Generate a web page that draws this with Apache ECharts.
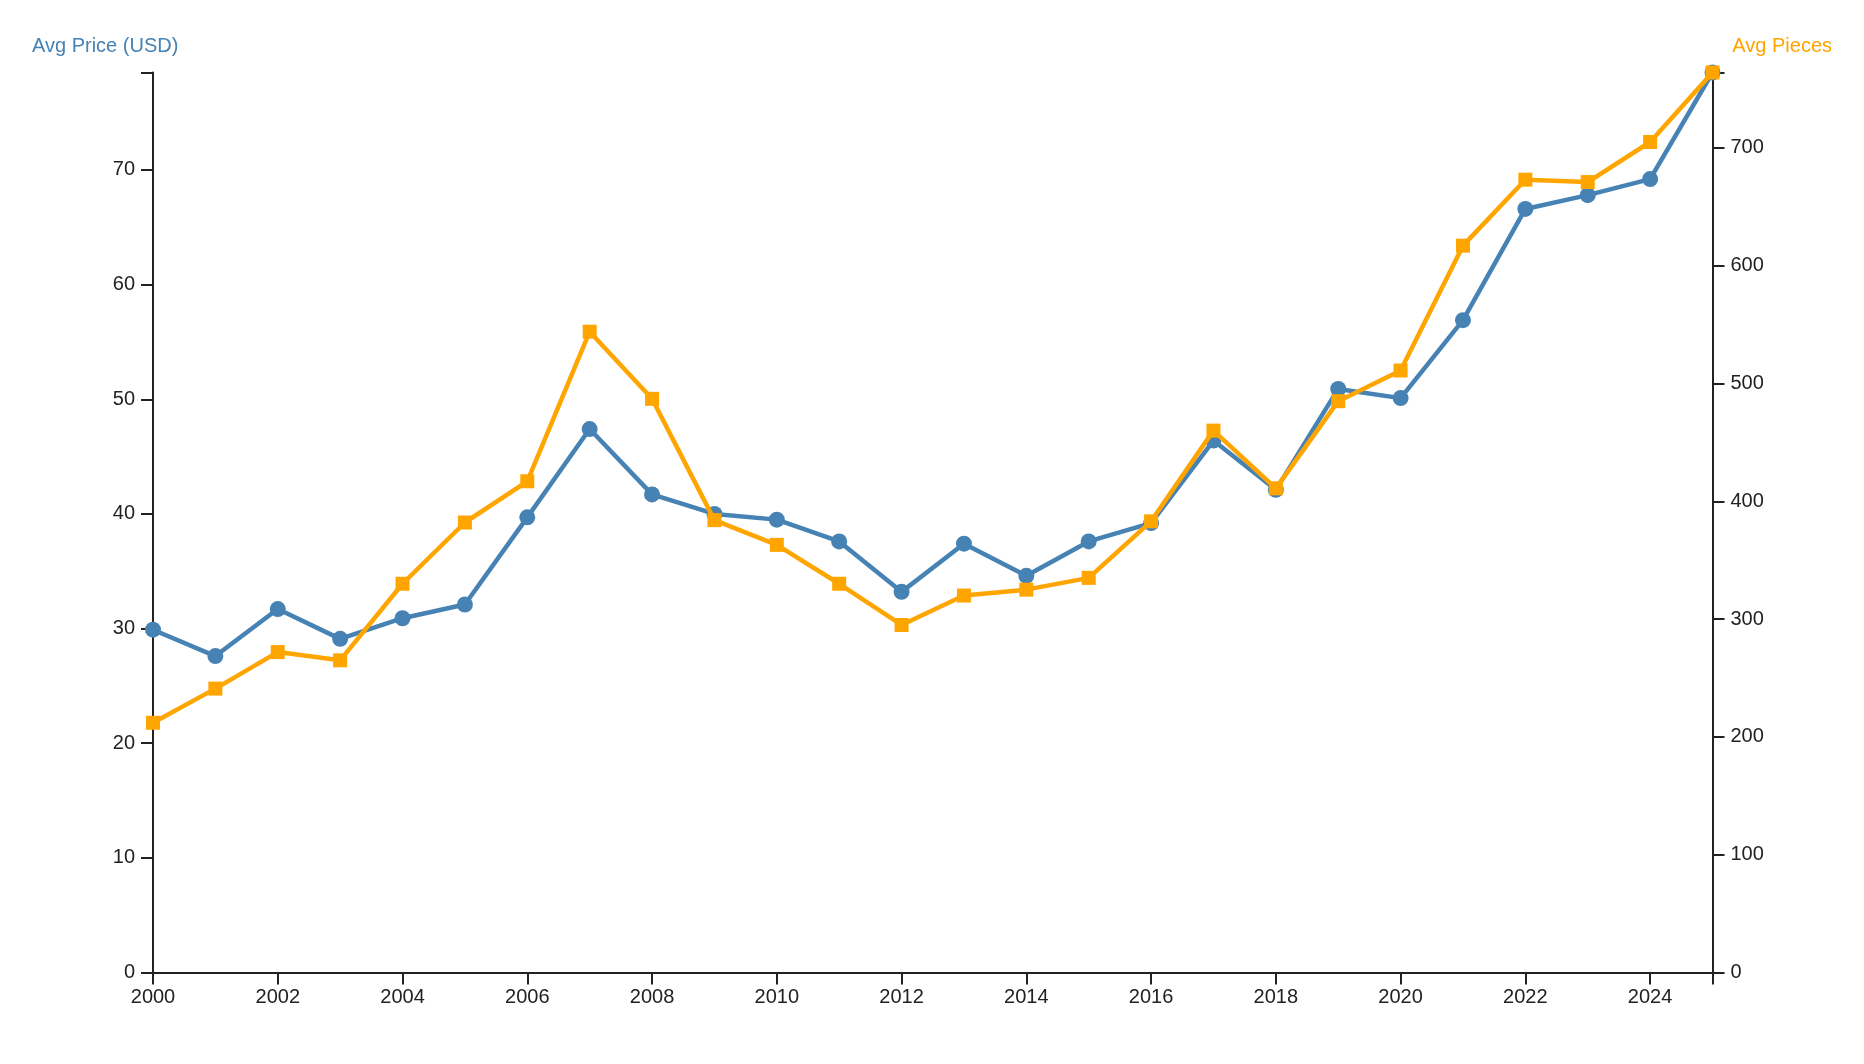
<!DOCTYPE html>
<html>
<head>
<meta charset="utf-8">
<script src="https://cdn.jsdelivr.net/npm/echarts@6/dist/echarts.min.js"></script>
<style>
  html, body { margin: 0; padding: 0; background: #fff; }
  #chart { width: 1864px; height: 1064px; }
</style>
</head>
<body>
<div id="chart"></div>
<script>
const years = [2000, 2001, 2002, 2003, 2004, 2005, 2006, 2007, 2008, 2009, 2010, 2011, 2012,
               2013, 2014, 2015, 2016, 2017, 2018, 2019, 2020, 2021, 2022, 2023, 2024, 2025];
const avgPrice = [29.9, 27.6, 31.7, 29.1, 30.9, 32.1, 39.7, 47.4, 41.7, 40.0, 39.5, 37.6, 33.2,
                  37.4, 34.6, 37.6, 39.2, 46.4, 42.1, 50.9, 50.1, 56.9, 66.6, 67.8, 69.2, 78.5];
const avgPieces = [212, 241, 272, 265, 330, 382, 417, 544, 487, 384, 363, 330, 295,
                   320, 325, 335, 383, 460, 411, 485, 511, 617, 673, 671, 705, 764];
const leftAxisTitle = 'Avg Price (USD)';
const rightAxisTitle = 'Avg Pieces';

const FONT = '"Liberation Sans", Arial, Helvetica, sans-serif';
const AXIS_COLOR = '#222';
const BLUE = '#4682b4';
const ORANGE = '#ffa500';

const xMin = years[0], xMax = years[years.length - 1];
const priceMax = Math.max(...avgPrice);
const piecesMax = Math.max(...avgPieces);

const chart = echarts.init(document.getElementById('chart'), null, { renderer: 'canvas' });

const axisCommon = {
  axisLine: { show: true, lineStyle: { color: AXIS_COLOR, width: 2 } },
  axisTick: { show: true, length: 12, lineStyle: { color: AXIS_COLOR, width: 2 } },
  splitLine: { show: false },
};

chart.setOption({
  animation: false,
  backgroundColor: '#fff',
  grid: { left: 153, right: 151.5, top: 72.5, bottom: 91.5, containLabel: false },
  xAxis: Object.assign({
    type: 'value',
    min: xMin,
    max: xMax,
    interval: 2,
    axisLabel: {
      color: AXIS_COLOR, fontSize: 20, fontFamily: FONT, margin: 15,
      showMaxLabel: true,
      formatter: v => (v === xMax ? '' : String(v))
    }
  }, axisCommon),
  yAxis: [
    Object.assign({
      type: 'value',
      position: 'left',
      min: 0,
      max: priceMax,
      interval: 10,
      axisLabel: {
        color: AXIS_COLOR, fontSize: 20, fontFamily: FONT, margin: 18,
        formatter: v => (v === priceMax ? '' : String(v))
      }
    }, axisCommon),
    Object.assign({
      type: 'value',
      position: 'right',
      min: 0,
      max: piecesMax,
      interval: 100,
      axisLabel: {
        color: AXIS_COLOR, fontSize: 20, fontFamily: FONT, margin: 18,
        formatter: v => (v === piecesMax ? '' : String(v))
      }
    }, axisCommon)
  ],
  graphic: [
    {
      type: 'text',
      left: 32,
      top: 36,
      style: { text: leftAxisTitle, fill: BLUE, font: '20px ' + FONT }
    },
    {
      type: 'text',
      right: 1864 - 1832,
      top: 36,
      style: { text: rightAxisTitle, fill: ORANGE, font: '20px ' + FONT }
    }
  ],
  series: [
    {
      name: leftAxisTitle,
      type: 'line',
      yAxisIndex: 0,
      data: years.map((y, i) => [y, avgPrice[i]]),
      symbol: 'circle',
      symbolSize: 16,
      showAllSymbol: true,
      clip: false,
      lineStyle: { color: BLUE, width: 4.5 },
      itemStyle: { color: BLUE },
      z: 2
    },
    {
      name: rightAxisTitle,
      type: 'line',
      yAxisIndex: 1,
      data: years.map((y, i) => [y, avgPieces[i]]),
      symbol: 'rect',
      symbolSize: 14,
      showAllSymbol: true,
      clip: false,
      lineStyle: { color: ORANGE, width: 4.5 },
      itemStyle: { color: ORANGE },
      z: 3
    }
  ]
});
</script>
</body>
</html>
